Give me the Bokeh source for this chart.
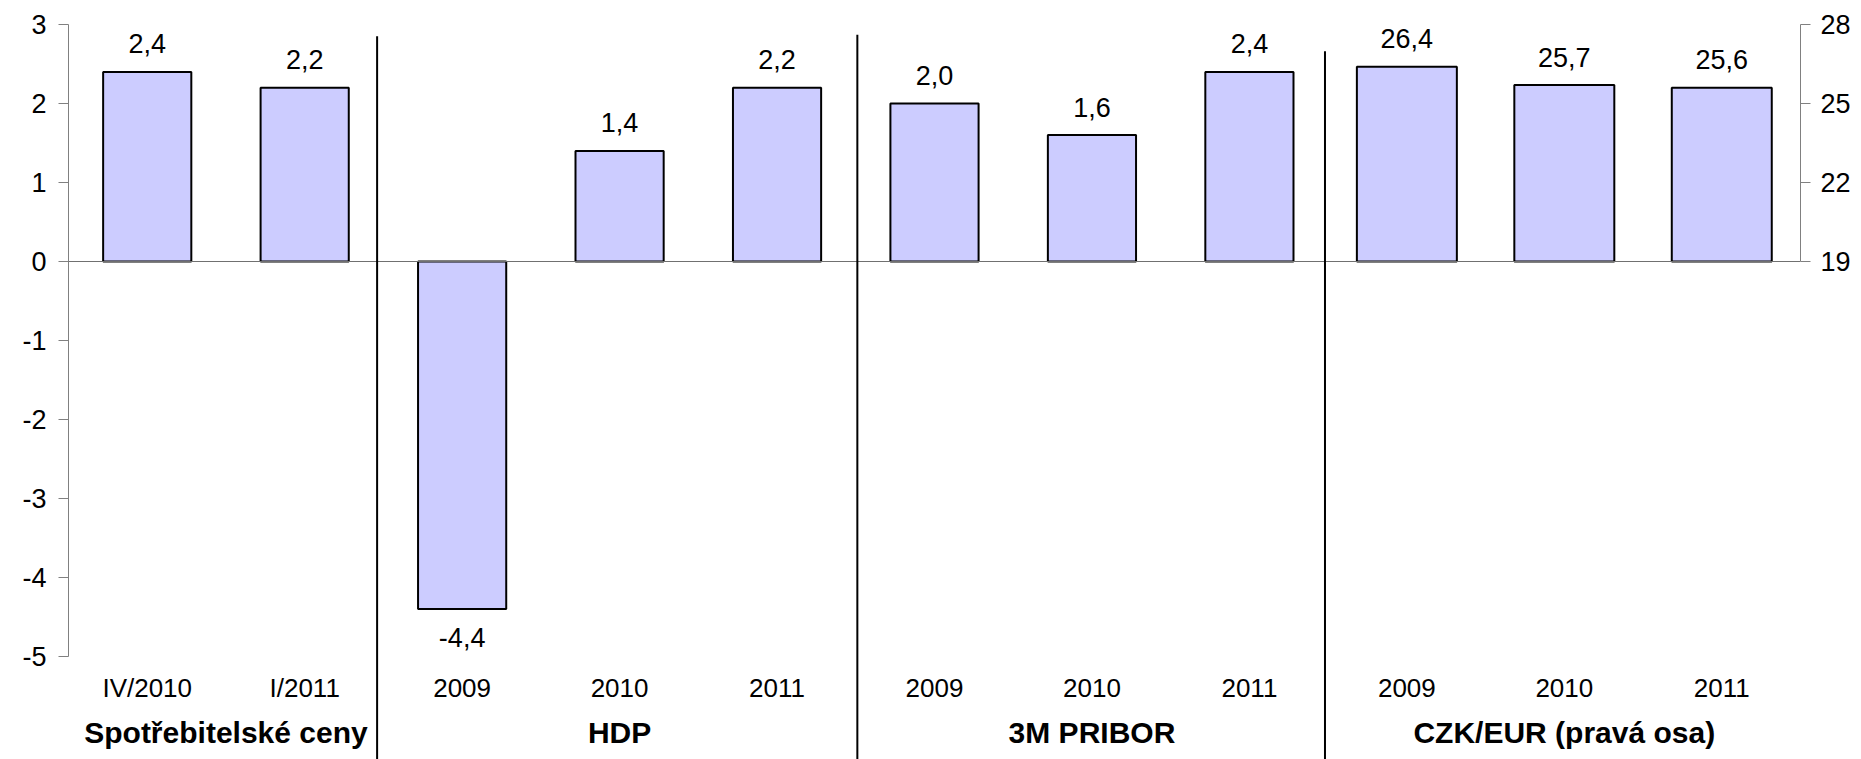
from bokeh.plotting import figure
from bokeh.models import FactorRange, Range1d, LinearAxis, FixedTicker, ColumnDataSource, Span
from bokeh.embed import file_html
from bokeh.resources import INLINE
from bokeh.core.properties import value

# ---- data ----
groups = ["Spotřebitelské ceny", "HDP", "3M PRIBOR", "CZK/EUR (pravá osa)"]
cpi_labels = ["IV/2010", "I/2011"]
cpi_values = [2.4, 2.2]
hdp_labels = ["2009", "2010", "2011"]
hdp_values = [-4.4, 1.4, 2.2]
pribor_labels = ["2009", "2010", "2011"]
pribor_values = [2.0, 1.6, 2.4]
czk_labels = ["2009", "2010", "2011"]
czk_values = [26.4, 25.7, 25.6]
left_ticks = [-5, -4, -3, -2, -1, 0, 1, 2, 3]
right_ticks = [19, 22, 25, 28]

FONT = "Liberation Sans"
FILL = "#CCCCFF"

left_series = [
    (groups[0], cpi_labels, cpi_values),
    (groups[1], hdp_labels, hdp_values),
    (groups[2], pribor_labels, pribor_values),
]
factors = []
for g, labs, _ in left_series:
    factors += [(g, l) for l in labs]
factors += [(groups[3], l) for l in czk_labels]


def fmt(v):
    return f"{v:.1f}".replace(".", ",")


x_range = FactorRange(*factors, group_padding=0, range_padding=0, factor_padding=0)

p = figure(x_range=x_range, y_range=Range1d(-5, 3),
           frame_width=1732, frame_height=632,
           min_border_left=68, min_border_top=24, min_border_right=61, min_border_bottom=103,
           output_backend="svg", toolbar_location=None)
p.extra_y_ranges = {"right": Range1d(4, 28)}
p.outline_line_color = None
p.xgrid.grid_line_color = None
p.ygrid.grid_line_color = None

# left axis
ya = p.yaxis[0]
ya.ticker = FixedTicker(ticks=left_ticks)
ya.bounds = (-5, 3)
ya.major_label_overrides = {t: str(t) for t in left_ticks}
ya.axis_line_color = "#808080"
ya.major_tick_line_color = "#808080"
ya.major_tick_out = 10
ya.major_tick_in = 0
ya.minor_tick_line_color = None
ya.major_label_text_font = FONT
ya.major_label_text_font_size = "27px"
ya.major_label_text_color = "black"
ya.major_label_standoff = 12

# right axis
ra = LinearAxis(y_range_name="right", ticker=FixedTicker(ticks=right_ticks), bounds=(19, 28))
ra.major_label_overrides = {t: str(t) for t in right_ticks}
ra.axis_line_color = "#808080"
ra.major_tick_line_color = "#808080"
ra.major_tick_out = 10
ra.major_tick_in = 0
ra.minor_tick_line_color = None
ra.major_label_text_font = FONT
ra.major_label_text_font_size = "27px"
ra.major_label_text_color = "black"
ra.major_label_standoff = 10
p.add_layout(ra, "right")

# x axis
xa = p.xaxis[0]
xa.axis_line_color = None
xa.major_tick_line_color = None
xa.minor_tick_line_color = None
xa.major_label_text_font = FONT
xa.major_label_text_font_size = "26px"
xa.major_label_text_color = "black"
xa.major_label_text_line_height = 1.7
xa.major_label_standoff = 10
xa.group_text_font = FONT
xa.group_text_font_size = "30px"
xa.group_text_font_style = "bold"
xa.group_text_color = "black"
xa.separator_line_color = None

# zero line
p.add_layout(Span(location=0, dimension="width", line_color="#707070", line_width=1))

# bars (left axis)
for g, labs, vals in left_series:
    xs = [(g, l) for l in labs]
    src = ColumnDataSource(dict(x=xs, top=vals, text=[fmt(v) for v in vals],
                                off=[-28 if v >= 0 else 28 for v in vals]))
    p.vbar(x="x", top="top", bottom=0, width=0.56, source=src,
           fill_color=FILL, line_color="black", line_width=2)
    p.text(x="x", y="top", text="text", y_offset="off", source=src,
           text_align="center", text_baseline="middle",
           text_font=value(FONT), text_font_size="27px", text_color="black")

# bars (right axis)
xs = [(groups[3], l) for l in czk_labels]
src = ColumnDataSource(dict(x=xs, top=czk_values, text=[fmt(v) for v in czk_values],
                            off=[-28 for v in czk_values]))
p.vbar(x="x", top="top", bottom=19, width=0.635, source=src, y_range_name="right",
       fill_color=FILL, line_color="black", line_width=2)
p.text(x="x", y="top", text="text", y_offset="off", source=src, y_range_name="right",
       text_align="center", text_baseline="middle",
       text_font=value(FONT), text_font_size="27px", text_color="black")

# group separators
sep = ColumnDataSource(dict(x=[1.96, 5.01, 7.98], y0=[2.85, 2.87, 2.66], y1=[-6.4, -6.4, -6.4]))
p.segment(x0="x", x1="x", y0="y0", y1="y1", source=sep,
          line_color="black", line_width=2, level="overlay")

open("out.html", "w").write(file_html(p, INLINE))
